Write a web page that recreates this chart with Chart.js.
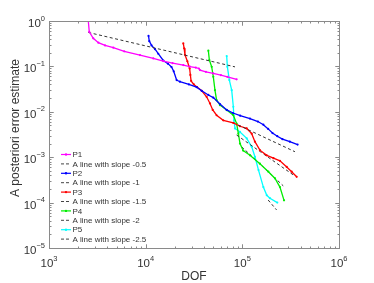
<!DOCTYPE html>
<html>
<head>
  <meta charset="UTF-8">
  <title>A posteriori error estimate vs DOF</title>
  <style>
    html, body { margin: 0; padding: 0; background: #fff; }
    #wrap { width: 374px; height: 283px; position: relative; }
  </style>
  <script src="https://cdn.jsdelivr.net/npm/chart.js"></script>
</head>
<body>
  <div id="wrap"><canvas id="errChart"></canvas></div>

  <script>
    // values (DOF, error estimate)
    const p1Dof = [2550, 2610, 2870, 3240, 3800, 4630, 6000, 8730, 12000, 15200, 19000, 24500, 28700, 33000, 35500, 36500, 42000, 50000, 60000, 70000, 87300];
    const p1Err = [1.0, 0.58, 0.416, 0.333, 0.29, 0.258, 0.215, 0.178, 0.15, 0.131, 0.118, 0.107, 0.099, 0.094, 0.09, 0.083, 0.076, 0.07, 0.064, 0.059, 0.052];

    const p2Dof = [10700, 10900, 11500, 12500, 13500, 15200, 17000, 18500, 19500, 20900, 22600, 28000, 33600, 38000, 44500, 50100, 58700, 68900, 80000, 95000, 120000, 145000, 165000, 185000, 205000, 230000, 260000, 310000, 373000];
    const p2Err = [0.47, 0.36, 0.29, 0.24, 0.19, 0.135, 0.115, 0.097, 0.078, 0.05, 0.046, 0.04, 0.035, 0.029, 0.0235, 0.0205, 0.0148, 0.011, 0.0094, 0.0082, 0.0071, 0.0061, 0.0052, 0.0042, 0.0034, 0.0029, 0.0025, 0.0022, 0.0019];

    const p3Dof = [24500, 25000, 25500, 27000, 28500, 29000, 29500, 31500, 34000, 38000, 42700, 46300, 49400, 54200, 63500, 80700, 94600, 111000, 125000, 135000, 152000, 179000, 210000, 245000, 288000, 324000, 365000];
    const p3Err = [0.32, 0.25, 0.18, 0.13, 0.09, 0.065, 0.048, 0.04, 0.035, 0.029, 0.0214, 0.0153, 0.011, 0.0084, 0.0065, 0.0057, 0.0048, 0.0043, 0.0033, 0.0022, 0.00143, 0.0011, 0.00095, 0.00083, 0.00061, 0.00048, 0.00037];

    const p4Dof = [44500, 45600, 48200, 50100, 52100, 54200, 58700, 68900, 80700, 87300, 91000, 94600, 102000, 120000, 152000, 186000, 218000, 245000, 270000];
    const p4Err = [0.222, 0.138, 0.098, 0.059, 0.03, 0.018, 0.014, 0.0109, 0.0084, 0.0055, 0.0033, 0.002, 0.0014, 0.0011, 0.00072, 0.00048, 0.00034, 0.00022, 0.000112];

    const p5Dof = [68900, 70000, 73400, 77600, 80700, 82000, 84000, 94600, 111000, 125000, 135000, 147000, 165000, 179000, 193000, 230000];
    const p5Err = [0.169, 0.098, 0.05, 0.03, 0.0129, 0.0065, 0.0043, 0.0036, 0.0026, 0.00169, 0.00102, 0.00052, 0.00022, 0.000145, 0.000125, 0.0001];

    // reference slope lines (end points)
    const s05Dof = [2550, 84000];   const s05Err = [0.56, 0.0976];
    const s1Dof = [90700, 350000];  const s1Err = [0.0051, 0.00132];
    const s15Dof = [87300, 350000]; const s15Err = [0.00308, 0.000384];
    const s2Dof = [98400, 265000];  const s2Err = [0.0017, 0.000234];
    const s25Dof = [185000, 226000]; const s25Err = [0.000114, 0.000069];

    const xTicks = [3, 4, 5, 6];
    const yTicks = [0, -1, -2, -3, -4, -5];

    const pts = (xs, ys) => xs.map((x, i) => ({ x: x, y: ys[i] }));

    function curve(label, color, xs, ys) {
      return {
        label: label, data: pts(xs, ys),
        borderColor: color, backgroundColor: color,
        borderWidth: 1.3, pointRadius: 1.1, pointBorderWidth: 0,
        pointBackgroundColor: color, tension: 0
      };
    }
    function slope(label, xs, ys) {
      return {
        label: label, data: pts(xs, ys), dashed: true,
        borderColor: '#333', borderWidth: 1, borderDash: [3, 2.5],
        pointRadius: 0, tension: 0
      };
    }

    const FONT = 'Liberation Sans, Arial, Helvetica, sans-serif';

    function drawPow(ctx, x, y, exp, align) {
      const base = '10';
      const sup = String(exp).replace('-', '\u2212');
      ctx.font = '11.5px ' + FONT;
      const wb = ctx.measureText(base).width;
      ctx.font = '7.5px ' + FONT;
      const ws = ctx.measureText(sup).width;
      let x0 = align === 'center' ? x - (wb + ws) / 2 : x - (wb + ws);
      ctx.textAlign = 'left';
      ctx.textBaseline = 'alphabetic';
      ctx.font = '11.5px ' + FONT;
      ctx.fillText(base, x0, y);
      ctx.font = '7.5px ' + FONT;
      ctx.fillText(sup, x0 + wb, y - 6.5);
    }

    const framePlugin = {
      id: 'frame',
      afterDatasetsDraw(chart) {
        const ctx = chart.ctx;
        const a = chart.chartArea;
        const xs = chart.scales.x, ys = chart.scales.y;
        const L = Math.round(a.left) + 0.5, R = Math.round(a.right) + 0.5;
        const T = Math.round(a.top) + 0.5, B = Math.round(a.bottom) + 0.5;
        ctx.save();
        ctx.strokeStyle = '#8a8a8a';
        ctx.lineWidth = 1;
        ctx.strokeRect(L, T, R - L, B - T);

        ctx.beginPath();
        for (let d = 3; d < 6; d++) {
          for (let m = 1; m <= 10; m++) {
            const px = Math.round(xs.getPixelForValue(m * Math.pow(10, d))) + 0.5;
            const len = (m === 1 || m === 10) ? 4 : 2;
            ctx.moveTo(px, B); ctx.lineTo(px, B - len);
            ctx.moveTo(px, T); ctx.lineTo(px, T + len);
          }
        }
        for (let d = -5; d < 0; d++) {
          for (let m = 1; m <= 10; m++) {
            const py = Math.round(ys.getPixelForValue(m * Math.pow(10, d))) + 0.5;
            const len = (m === 1 || m === 10) ? 4 : 2;
            ctx.moveTo(L, py); ctx.lineTo(L + len, py);
            ctx.moveTo(R, py); ctx.lineTo(R - len, py);
          }
        }
        ctx.stroke();

        // tick labels
        ctx.fillStyle = '#333';
        xTicks.forEach(e => drawPow(ctx, xs.getPixelForValue(Math.pow(10, e)), a.bottom + 19, e, 'center'));
        yTicks.forEach(e => drawPow(ctx, a.left - 4, ys.getPixelForValue(Math.pow(10, e)) + 6, e, 'right'));

        // axis titles
        ctx.font = '12px ' + FONT;
        ctx.textAlign = 'center';
        ctx.textBaseline = 'alphabetic';
        ctx.fillText('DOF', (a.left + a.right) / 2, 280);
        ctx.save();
        ctx.translate(18.5, 128);
        ctx.rotate(-Math.PI / 2);
        ctx.fillText('A posteriori error estimate', 0, 0);
        ctx.restore();

        // legend, inside the axes, lower left
        ctx.font = '8px ' + FONT;
        ctx.textAlign = 'left';
        ctx.textBaseline = 'middle';
        chart.data.datasets.forEach((ds, i) => {
          const y = 154.5 + i * 9.4;
          ctx.beginPath();
          if (ds.dashed) {
            ctx.strokeStyle = '#444';
            ctx.lineWidth = 1;
            ctx.setLineDash([3, 2]);
          } else {
            ctx.strokeStyle = ds.borderColor;
            ctx.lineWidth = 1.2;
            ctx.setLineDash([]);
          }
          ctx.moveTo(61, y); ctx.lineTo(71, y);
          ctx.stroke();
          ctx.setLineDash([]);
          if (!ds.dashed) {
            ctx.fillStyle = ds.borderColor;
            ctx.beginPath();
            ctx.arc(66, y, 1.2, 0, Math.PI * 2);
            ctx.fill();
          }
          ctx.fillStyle = '#333';
          ctx.fillText(ds.label, 72.5, y + 0.5);
        });
        ctx.restore();
      }
    };

    new Chart(document.getElementById('errChart'), {
      type: 'line',
      data: {
        datasets: [
          curve('P1', '#ff00ff', p1Dof, p1Err),
          slope('A line with slope -0.5', s05Dof, s05Err),
          curve('P2', '#0000ff', p2Dof, p2Err),
          slope('A line with slope -1', s1Dof, s1Err),
          curve('P3', '#ff0000', p3Dof, p3Err),
          slope('A line with slope -1.5', s15Dof, s15Err),
          curve('P4', '#00ee00', p4Dof, p4Err),
          slope('A line with slope -2', s2Dof, s2Err),
          curve('P5', '#00ffff', p5Dof, p5Err),
          slope('A line with slope -2.5', s25Dof, s25Err)
        ]
      },
      options: {
        responsive: true,
        maintainAspectRatio: false,
        animation: false,
        layout: { padding: { left: 49, right: 35, top: 21, bottom: 35 } },
        plugins: { legend: { display: false }, tooltip: { enabled: false } },
        scales: {
          x: { type: 'logarithmic', min: 1e3, max: 1e6, display: false },
          y: { type: 'logarithmic', min: 1e-5, max: 1, display: false }
        }
      },
      plugins: [framePlugin]
    });
  </script>
</body>
</html>
